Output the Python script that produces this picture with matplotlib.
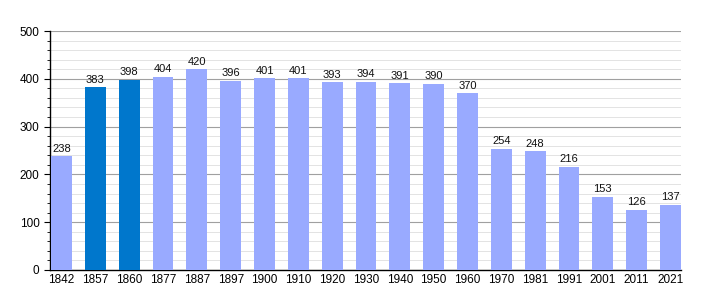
import matplotlib
matplotlib.use("Agg")
import matplotlib.pyplot as plt
from matplotlib.ticker import MultipleLocator

plt.rcParams["font.family"] = ["Liberation Sans", "DejaVu Sans"]

years = ["1842", "1857", "1860", "1877", "1887", "1897", "1900", "1910", "1920", "1930",
         "1940", "1950", "1960", "1970", "1981", "1991", "2001", "2011", "2021"]
population = [238, 383, 398, 404, 420, 396, 401, 401, 393, 394,
              391, 390, 370, 254, 248, 216, 153, 126, 137]
highlight = ["1857", "1860"]

light = "#99AAFF"
dark = "#0077CC"

fig = plt.figure(figsize=(7.1, 3.0), dpi=100)
ax = fig.add_axes([50/710, 0.1, (681-50)/710, (270-31)/300])

x = list(range(len(years)))
colors = [dark if y in highlight else light for y in years]
ax.bar(x, population, width=0.62, color=colors, zorder=3)
for xi, v in zip(x, population):
    ax.text(xi, v + 5, str(v), ha="center", va="bottom", fontsize=8, color="#111111", zorder=4)

ax.set_xlim(-0.34, len(years) - 1 + 0.31)
ax.set_ylim(0, 500)
ax.set_xticks(x)
ax.set_xticklabels(years, fontsize=8.5)
ax.yaxis.set_major_locator(MultipleLocator(100))
ax.yaxis.set_minor_locator(MultipleLocator(20))
ax.tick_params(axis="y", labelsize=8.5, length=4, width=0.8)
ax.tick_params(axis="y", which="minor", length=2.5, width=0.6)
ax.tick_params(axis="x", length=0, pad=3)
ax.grid(axis="y", which="major", color="#A0A0A0", linewidth=0.8, zorder=0)
ax.grid(axis="y", which="minor", color="#E3E3E3", linewidth=0.7, zorder=0)
for s in ["top", "right"]:
    ax.spines[s].set_visible(False)
ax.spines["left"].set_linewidth(1.0)
ax.spines["bottom"].set_linewidth(1.0)

fig.savefig("out.png", dpi=100)
